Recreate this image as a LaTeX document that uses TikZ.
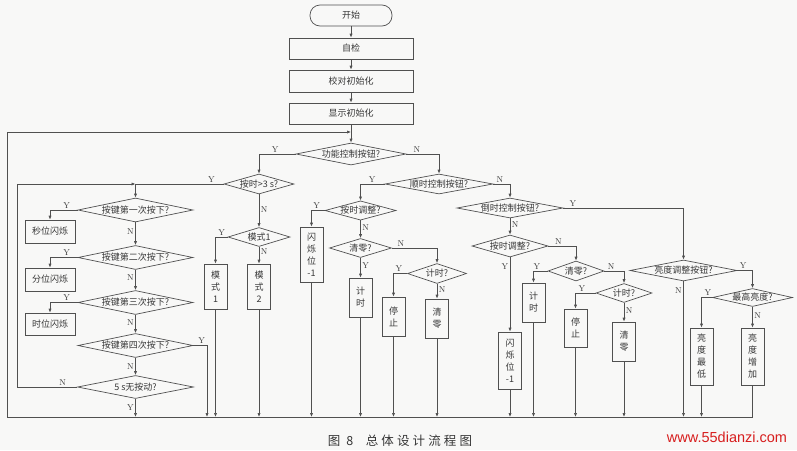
\documentclass[tikz,border=0pt]{standalone}
\usepackage{fontspec}
\usepackage{tikz}
\usetikzlibrary{arrows.meta,shapes.geometric,positioning}
\newfontfamily\cjk{Noto Sans CJK SC}
\newfontfamily\capfont[LetterSpace=25]{Noto Sans CJK SC}
\newfontfamily\webfont{Liberation Sans}
\definecolor{lineGray}{RGB}{80,80,80}
\definecolor{textGray}{RGB}{55,55,55}
\definecolor{paper}{RGB}{248,248,247}
\definecolor{markRed}{RGB}{215,30,30}

\begin{document}
\begin{tikzpicture}[x=1pt, y=-1pt, line width=0.7pt, lineGray,
  every node/.style={font=\cjk\fontsize{9}{12}\selectfont, text=textGray},
  term/.style={draw, rounded corners=10pt, minimum width=82pt, minimum height=21pt},
  proc/.style={draw, minimum width=124pt, minimum height=21pt},
  hbox/.style={draw, minimum width=50pt, minimum height=23pt, inner sep=0pt},
  vbox/.style={draw, minimum width=23pt, minimum height=#1, inner sep=0pt, align=center},
  dec/.code 2 args={\pgfmathsetmacro\decratio{#1/#2}\tikzset{diamond, draw, inner sep=0pt, aspect=\decratio, minimum width=#1pt, minimum height=#2pt}},
  arr/.style={-{Latex[length=4pt,width=3.2pt]}},
  lbl/.style={font=\rmfamily\fontsize{8.5}{8.5}\selectfont, inner sep=1.5pt}]
\fill[paper] (0,0) rectangle (797,450);
\useasboundingbox (0,0) rectangle (797,450);

% start-up chain
\node[term] (start) at (351,15.5) {开始};
\node[proc] (selftest) at (351,48.5) {自检};
\node[proc, minimum height=22pt] (caliinit) at (351,81) {校对初始化};
\node[proc] (dispinit) at (351,113.5) {显示初始化};
\node[dec={110}{22}] (funbtn) at (351,154) {功能控制按钮?};
\coordinate (loopin) at (351,132);
\coordinate (botL) at (7,417);
\coordinate (botR) at (752.5,417);

% function button branch
\node[dec={70}{20}] (longpress) at (259,184) {按时>3 s?};
\node[dec={62}{19}] (modeq) at (259,237) {模式1};
\node[vbox=45pt] (mode1) at (215.5,286.5) {模\\式\\1};
\node[vbox=45pt] (mode2) at (259,286.5) {模\\式\\2};
\node[dec={115}{24}] (key1) at (135.5,210) {按键第一次按下?};
\node[dec={115}{24}] (key2) at (135.5,257.5) {按键第二次按下?};
\node[dec={115}{24}] (key3) at (135.5,302.5) {按键第三次按下?};
\node[dec={115}{24}] (key4) at (135.5,345.5) {按键第四次按下?};
\node[dec={116}{23}] (idle) at (135.5,387) {5 s无按动?};
\node[hbox] (secblink) at (50,231.5) {秒位闪烁};
\node[hbox] (minblink) at (50,279.5) {分位闪烁};
\node[hbox, minimum height=22pt] (hourblink) at (50,324) {时位闪烁};
\coordinate (loopL) at (17,184);
\coordinate (k4out) at (207,417);

% count-up branch
\node[dec={108}{20}] (upbtn) at (439,184) {顺时控制按钮?};
\node[dec={70}{19}] (adj1) at (360.5,210.5) {按时调整?};
\node[vbox=55pt] (blink1) at (311.5,254.5) {闪\\烁\\位\\-1};
\node[dec={62}{19}] (clr1) at (360.5,248) {清零?};
\node[vbox=39pt] (run1) at (360.5,297.5) {计\\时};
\node[dec={59}{20}] (cnt1) at (437,273.5) {计时?};
\node[vbox=39pt] (stop1) at (393.5,316.5) {停\\止};
\node[vbox=39pt] (zero1) at (437,318.5) {清\\零};

% count-down branch
\node[dec={106}{20}] (downbtn) at (510,208) {倒时控制按钮?};
\node[dec={76}{22}] (adj2) at (510,246) {按时调整?};
\node[vbox=57pt] (blink2) at (510,360.5) {闪\\烁\\位\\-1};
\node[dec={56}{20}] (clr2) at (576,271) {清零?};
\node[vbox=39pt] (run2) at (533.5,302.5) {计\\时};
\node[dec={56}{19}] (cnt2) at (624,293) {计时?};
\node[vbox=38pt] (stop2) at (575.5,328) {停\\止};
\node[vbox=39pt] (zero2) at (624,341.5) {清\\零};

% brightness branch
\node[dec={107}{21}] (lightbtn) at (683.5,270.5) {亮度调整按钮?};
\node[dec={80}{18}] (maxq) at (752.5,297.5) {最高亮度?};
\node[vbox=57pt] (lightmin) at (701.5,356.5) {亮\\度\\最\\低};
\node[vbox=57pt] (lightup) at (752.5,356.5) {亮\\度\\增\\加};

\node[font=\capfont\fontsize{12.5}{12.5}\selectfont] (caption) at (400,441) {图 8\quad 总体设计流程图};
\node[font=\webfont\fontsize{14.5}{14.5}\selectfont, text=markRed] (site) at (727,437) {www.55dianzi.com};

% connectors
\draw[arr] (start) -- (selftest);
\draw[arr] (selftest) -- (caliinit);
\draw[arr] (caliinit) -- (dispinit);
\draw[arr] (dispinit) -- (funbtn);
\draw[arr] (lightup) -- (botR) -- (botL) |- (loopin);
\draw[arr] (funbtn.west) -| node[lbl, above, pos=0.28] {Y} (longpress.north);
\draw[arr] (funbtn.east) -| node[lbl, above, pos=0.16] {N} (upbtn.north);

\draw[arr] (longpress.west) -| node[lbl, above, pos=0.07] {Y} (key1.north);
\draw[arr] (idle.west) -| node[lbl, above, pos=0.12] {N} (loopL) -- (key1.north |- loopL);
\draw[arr] (longpress) -- node[lbl, right, pos=0.45] {N} (modeq);
\draw[arr] (modeq.west) -| node[lbl, above, pos=0.25] {Y} (mode1.north);
\draw[arr] (modeq) -- node[lbl, right, pos=0.3] {N} (mode2);
\draw[arr] (key1.west) -| node[lbl, above, pos=0.2] {Y} (secblink.north);
\draw[arr] (key1) -- node[lbl, left, pos=0.4] {N} (key2);
\draw[arr] (key2.west) -| node[lbl, above, pos=0.2] {Y} (minblink.north);
\draw[arr] (key2) -- node[lbl, left, pos=0.4] {N} (key3);
\draw[arr] (key3.west) -| node[lbl, above, pos=0.2] {Y} (hourblink.north);
\draw[arr] (key3) -- node[lbl, left, pos=0.4] {N} (key4);
\draw[arr] (key4.east) -| node[lbl, above, pos=0.3] {Y} (k4out);
\draw[arr] (key4) -- node[lbl, left, pos=0.5] {N} (idle);
\draw[arr] (idle) -- node[lbl, left] {Y} (idle |- botL);
\draw[arr] (mode1) -- (mode1 |- botL);
\draw[arr] (mode2) -- (mode2 |- botL);

\draw[arr] (upbtn.west) -| node[lbl, above, pos=0.26] {Y} (adj1.north);
\draw[arr] (upbtn.east) -| node[lbl, above, pos=0.2] {N} (downbtn.north);
\draw[arr] (adj1.west) -| node[lbl, above, pos=0.3] {Y} (blink1.north);
\draw[arr] (adj1) -- node[lbl, right, pos=0.4] {N} (clr1);
\draw[arr] (clr1) -- node[lbl, right, pos=0.4] {Y} (run1);
\draw[arr] (clr1.east) -| node[lbl, above, pos=0.1] {N} (cnt1.north);
\draw[arr] (cnt1.west) -| node[lbl, above, pos=0.3] {Y} (stop1.north);
\draw[arr] (cnt1) -- node[lbl, right, pos=0.4] {N} (zero1);
\draw[arr] (blink1) -- (blink1 |- botL);
\draw[arr] (run1) -- (run1 |- botL);
\draw[arr] (stop1) -- (stop1 |- botL);
\draw[arr] (zero1) -- (zero1 |- botL);

\draw[arr] (downbtn.east) -| node[lbl, above, pos=0.04] {Y} (lightbtn.north);
\draw[arr] (downbtn) -- node[lbl, right, pos=0.4] {N} (adj2);
\draw[arr] (adj2) -- node[lbl, left, pos=0.13] {Y} (blink2);
\draw[arr] (adj2.east) -| node[lbl, above, pos=0.18] {N} (clr2.north);
\draw[arr] (clr2.west) -| node[lbl, above, pos=0.38] {Y} (run2.north);
\draw[arr] (clr2.east) -| node[lbl, above, pos=0.17] {N} (cnt2.north);
\draw[arr] (cnt2.west) -| node[lbl, above, pos=0.34] {Y} (stop2.north);
\draw[arr] (cnt2) -- node[lbl, right, pos=0.4] {N} (zero2);
\draw[arr] (blink2) -- (blink2 |- botL);
\draw[arr] (run2) -- (run2 |- botL);
\draw[arr] (stop2) -- (stop2 |- botL);
\draw[arr] (zero2) -- (zero2 |- botL);

\draw[arr] (lightbtn.east) -| node[lbl, above, pos=0.19] {Y} (maxq.north);
\draw[arr] (lightbtn) -- node[lbl, left, pos=0.07] {N} (lightbtn |- botL);
\draw[arr] (maxq.west) -| node[lbl, above, pos=0.2] {Y} (lightmin.north);
\draw[arr] (maxq) -- node[lbl, right, pos=0.4] {N} (lightup);
\draw[arr] (lightmin) -- (lightmin |- botL);
\end{tikzpicture}
\end{document}
